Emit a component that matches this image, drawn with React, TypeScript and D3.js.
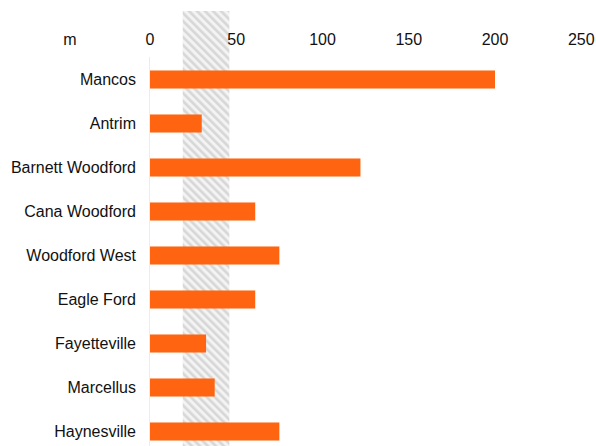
import React from "react";
import * as d3 from "d3";

const categories = [
  "Mancos",
  "Antrim",
  "Barnett Woodford",
  "Cana Woodford",
  "Woodford West",
  "Eagle Ford",
  "Fayetteville",
  "Marcellus",
  "Haynesville",
];
const values = [200, 30, 122, 61, 75, 61, 32.5, 37.5, 75];
const xTicks = [0, 50, 100, 150, 200, 250];
const unitLabel = "m";
const bandRange = [19, 46];

const W = 596;
const H = 446;

export default function App() {
  const x = d3.scaleLinear().domain([0, 200]).range([150, 495]);
  const y = d3
    .scaleBand<string>()
    .domain(categories)
    .range([57.5, 453.5])
    .paddingInner(0.59)
    .paddingOuter(0.295);

  const font = "'Liberation Sans', Arial, sans-serif";

  return (
    <svg
      width={W}
      height={H}
      style={{ position: "absolute", left: 0, top: 0, background: "#fff" }}
    >
      <defs>
        <pattern
          id="hatch"
          patternUnits="userSpaceOnUse"
          width={5.66}
          height={5.66}
          patternTransform="rotate(-45)"
        >
          <rect width={5.66} height={5.66} fill="#f3f3f3" />
          <rect width={2.6} height={5.66} fill="#d7d7d7" />
        </pattern>
      </defs>
      <rect
        x={x(bandRange[0])}
        y={11}
        width={x(bandRange[1]) - x(bandRange[0])}
        height={H - 11}
        fill="url(#hatch)"
      />
      <line
        x1={x(0) - 0.5}
        x2={x(0) - 0.5}
        y1={57}
        y2={H}
        stroke="#ececec"
        strokeWidth={1}
      />
      <text
        x={70}
        y={45}
        textAnchor="middle"
        fontFamily={font}
        fontSize={16}
        fill="#111"
      >
        {unitLabel}
      </text>
      {xTicks.map((t) => (
        <text
          key={t}
          x={x(t)}
          y={45}
          textAnchor="middle"
          fontFamily={font}
          fontSize={16}
          fill="#111"
        >
          {t}
        </text>
      ))}
      {categories.map((c, i) => (
        <g key={c}>
          <rect
            x={x(0)}
            y={y(c)!}
            width={x(values[i]) - x(0)}
            height={y.bandwidth()}
            fill="#ff6510"
          />
          <text
            x={136}
            y={y(c)! + y.bandwidth() / 2}
            dy="0.35em"
            textAnchor="end"
            fontFamily={font}
            fontSize={16}
            fill="#111"
          >
            {c}
          </text>
        </g>
      ))}
    </svg>
  );
}
